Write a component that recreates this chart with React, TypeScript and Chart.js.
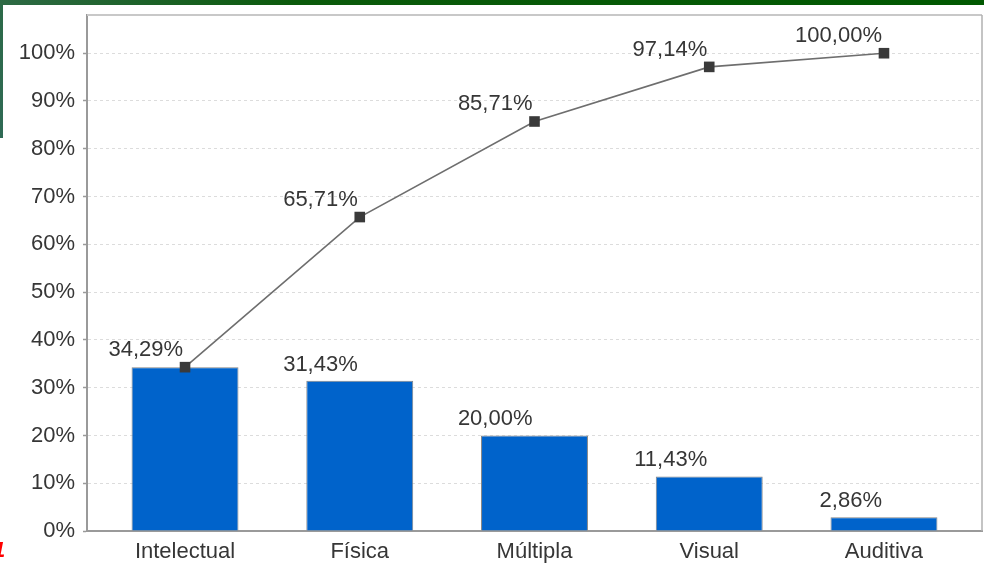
import React, { useEffect, useRef } from 'react';
import { Chart, registerables } from 'chart.js';

Chart.register(...registerables);

const categories = ['Intelectual', 'Física', 'Múltipla', 'Visual', 'Auditiva'];
const barValues = [34.29, 31.43, 20.0, 11.43, 2.86];
const cumulativeValues = [34.29, 65.71, 85.71, 97.14, 100.0];
const yTickValues = [0, 10, 20, 30, 40, 50, 60, 70, 80, 90, 100];

const FONT_FAMILY = '"Liberation Sans", Arial, sans-serif';
const TEXT_COLOR = '#363636';

const fmt = (v: number) => v.toFixed(2).replace('.', ',') + '%';

const decorPlugin = {
  id: 'decor',
  beforeDraw(chart: any) {
    const ctx = chart.ctx;
    ctx.save();
    ctx.fillStyle = '#ffffff';
    ctx.fillRect(0, 0, chart.width, chart.height);
    const g = ctx.createLinearGradient(0, 0, 0, 140);
    g.addColorStop(0, '#2c6a48');
    g.addColorStop(1, '#2f6a55');
    ctx.fillStyle = g;
    ctx.fillRect(0, 0, 3, 138);
    const t = ctx.createLinearGradient(0, 0, chart.width, 0);
    t.addColorStop(0, '#2e6a45');
    t.addColorStop(0.3, '#0b5a0b');
    t.addColorStop(1, '#005800');
    ctx.fillStyle = t;
    ctx.fillRect(0, 0, chart.width, 5);
    ctx.fillStyle = '#ff0000';
    ctx.font = 'italic bold 22px ' + FONT_FAMILY;
    ctx.textAlign = 'left';
    ctx.textBaseline = 'alphabetic';
    ctx.fillText('1', -7, 557);
    ctx.restore();
  },
  afterDraw(chart: any) {
    const { ctx, chartArea } = chart;
    ctx.save();
    ctx.lineWidth = 2;
    ctx.strokeStyle = '#c8c8c8';
    ctx.beginPath();
    ctx.moveTo(chartArea.left, chartArea.top);
    ctx.lineTo(chartArea.right, chartArea.top);
    ctx.stroke();
    ctx.lineWidth = 1.5;
    ctx.strokeStyle = '#b0b0b0';
    ctx.beginPath();
    ctx.moveTo(chartArea.right, chartArea.top);
    ctx.lineTo(chartArea.right, chartArea.bottom);
    ctx.stroke();
    ctx.restore();
  },
};

const labelPlugin = {
  id: 'valueLabels',
  afterDatasetsDraw(chart: any) {
    const ctx = chart.ctx;
    ctx.save();
    ctx.font = '22px ' + FONT_FAMILY;
    ctx.fillStyle = TEXT_COLOR;
    ctx.textAlign = 'right';
    ctx.textBaseline = 'alphabetic';
    const lineMeta = chart.getDatasetMeta(0);
    const barMeta = chart.getDatasetMeta(1);
    lineMeta.data.forEach((pt: any, i: number) => {
      ctx.fillText(fmt(cumulativeValues[i]), pt.x - 2, pt.y - 11);
    });
    barMeta.data.forEach((bar: any, i: number) => {
      if (barValues[i] === cumulativeValues[i]) return;
      ctx.fillText(fmt(barValues[i]), bar.x - 2, bar.y - 10);
    });
    ctx.restore();
  },
};

export default function App() {
  const canvasRef = useRef<HTMLCanvasElement | null>(null);

  useEffect(() => {
    if (!canvasRef.current) return;
    const font = { family: FONT_FAMILY, size: 22 };
    const chart = new Chart(canvasRef.current, {
      type: 'bar',
      data: {
        datasets: [
          {
            type: 'line',
            data: cumulativeValues.map((v, i) => ({ x: i, y: v })),
            borderColor: '#6e6e6e',
            borderWidth: 1.6,
            tension: 0,
            pointStyle: 'rect',
            pointRadius: 7.5,
            pointBackgroundColor: '#3a3a3a',
            pointBorderColor: '#3a3a3a',
            pointBorderWidth: 0,
            order: 0,
          } as any,
          {
            type: 'bar',
            data: barValues.map((v, i) => ({ x: i, y: v })),
            backgroundColor: '#0063cb',
            borderColor: '#858585',
            borderWidth: 1,
            barPercentage: 0.612,
            categoryPercentage: 1,
            order: 1,
          } as any,
        ],
      },
      options: {
        animation: false,
        responsive: false,
        devicePixelRatio: 1,
        layout: { autoPadding: false, padding: { left: 0, right: 2, top: 15, bottom: 0 } },
        plugins: { legend: { display: false }, tooltip: { enabled: false } },
        scales: {
          x: {
            type: 'linear',
            min: -0.561,
            max: 4.561,
            offset: false,
            grid: { display: false, drawTicks: false, offset: false },
            border: { display: true, color: '#9a9a9a', width: 2 },
            afterBuildTicks: (s: any) => {
              s.ticks = categories.map((_, i) => ({ value: i }));
            },
            afterFit: (s: any) => {
              s.height = 41;
              s.paddingLeft = 0;
              s.paddingRight = 0;
              s.paddingTop = 0;
              s.paddingBottom = 0;
            },
            ticks: {
              callback: (v: any) => categories[v as number],
              font,
              color: TEXT_COLOR,
              padding: 8,
              autoSkip: false,
              maxRotation: 0,
            },
          } as any,
          y: {
            min: 0,
            max: 108,
            afterBuildTicks: (s: any) => {
              s.ticks = yTickValues.map((v) => ({ value: v }));
            },
            afterFit: (s: any) => {
              s.width = 87;
              s.paddingLeft = 0;
              s.paddingRight = 0;
              s.paddingTop = 0;
              s.paddingBottom = 0;
            },
            grid: {
              color: '#dcdcdc',
              lineWidth: 1,
              tickLength: 4,
              tickColor: '#9a9a9a',
              tickWidth: 1.5,
            },
            border: { display: true, color: '#9a9a9a', width: 2, dash: [3, 3] },
            ticks: {
              callback: (v: any) => v + '%',
              font,
              color: TEXT_COLOR,
              padding: 8,
            },
          } as any,
        },
      },
      plugins: [decorPlugin, labelPlugin],
    });
    return () => chart.destroy();
  }, []);

  return (
    <div style={{ position: 'absolute', left: 0, top: 0, width: 984, height: 572 }}>
      <canvas ref={canvasRef} width={984} height={572} />
    </div>
  );
}
